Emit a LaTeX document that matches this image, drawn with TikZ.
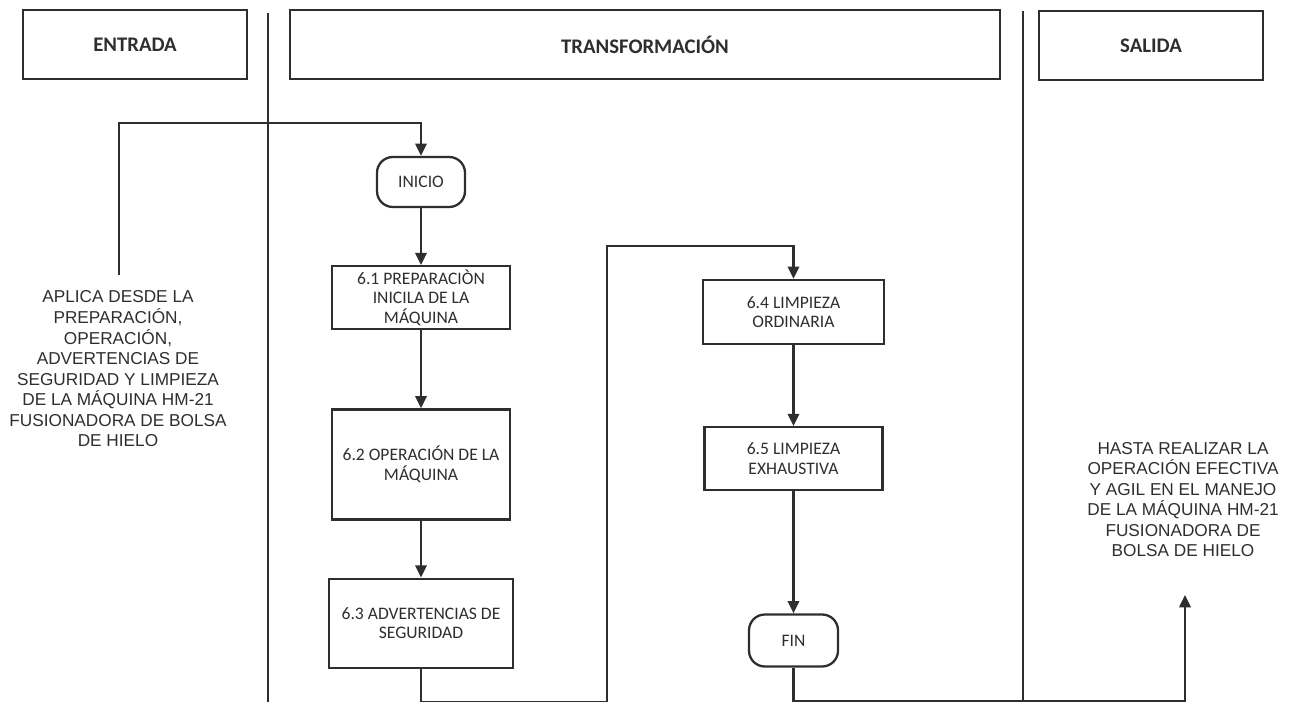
\documentclass[tikz,border=0pt]{standalone}
\usepackage{fontspec}
\setmainfont{Carlito}
\newfontfamily\arialfont{Liberation Sans}
\usepackage{tikz}
\usetikzlibrary{positioning,arrows.meta}
\definecolor{ink}{HTML}{2E2E2E}

\begin{document}
\begin{tikzpicture}[x=0.02cm, y=-0.02cm,
    hdr/.style={draw=ink, line width=1.3pt, inner sep=0pt, minimum height=1.38cm, text=ink, font=\fontsize{11.8pt}{13pt}\selectfont\bfseries},
    proc/.style={draw=ink, line width=1.3pt, inner sep=0pt, align=center, text=ink, font=\fontsize{10pt}{11.1pt}\selectfont},
    term/.style={proc, rounded corners=9pt},
    note/.style={align=center, inner sep=0pt, text=ink, font=\arialfont\fontsize{9.8pt}{11.7pt}\selectfont},
    flow/.style={draw=ink, line width=1.3pt, -{Triangle[width=6.5pt,length=7pt]}},
    lane/.style={draw=ink, line width=1.1pt}]
  \useasboundingbox (0,0) rectangle (1290,702);

  % headers
  \node[hdr, minimum width=4.48cm] (entrada) at (135,44.5) {ENTRADA};
  \node[hdr, minimum width=14.2cm] (transf) at (645,44.5) {TRANSFORMACIÓN};
  \node[hdr, minimum width=4.48cm] (salida) at (1151,45.5) {SALIDA};
  \draw[lane] (268,13) -- (268,702);
  \draw[lane] (1023,11) -- (1023,702);

  % first column
  \node[term, minimum width=1.76cm, minimum height=1cm] (inicio) at (421,182) {INICIO};
  \node[proc, minimum width=3.56cm, minimum height=1.26cm] (p61)[below=1.14cm of inicio] {6.1 PREPARACIÒN\\INICILA DE LA\\MÁQUINA};
  \node[proc, minimum width=3.56cm, minimum height=2.2cm] (p62)[below=1.56cm of p61] {6.2 OPERACIÓN DE LA\\MÁQUINA};
  \node[proc, minimum width=3.68cm, minimum height=1.78cm] (p63)[below=1.14cm of p62] {6.3 ADVERTENCIAS DE\\SEGURIDAD};

  % second column
  \node[proc, minimum width=3.62cm, minimum height=1.28cm] (p64) at (793.5,312) {6.4 LIMPIEZA\\ORDINARIA};
  \node[proc, minimum width=3.56cm, minimum height=1.26cm] (p65)[below=1.62cm of p64] {6.5 LIMPIEZA\\EXHAUSTIVA};
  \node[term, minimum width=1.78cm, minimum height=1.04cm] (fin)[below=2.44cm of p65] {FIN};

  % side texts
  \node[note] (alcance) at (118,369) {APLICA DESDE LA\\PREPARACIÓN,\\OPERACIÓN,\\ADVERTENCIAS DE\\SEGURIDAD Y LIMPIEZA\\DE LA MÁQUINA HM-21\\FUSIONADORA DE BOLSA\\DE HIELO};
  \node[note] (meta) at (1183,499.5) {HASTA REALIZAR LA\\OPERACIÓN EFECTIVA\\Y AGIL EN EL MANEJO\\DE LA MÁQUINA HM-21\\FUSIONADORA DE\\BOLSA DE HIELO};

  \coordinate (inTop) at (119,275);
  \coordinate (inBend) at (119,123);
  \coordinate (upTurn) at (607,246);
  \coordinate (outEnd) at (1185,595);

  \draw[flow] (inTop) -- (inBend) -| (inicio.north);
  \draw[flow] (inicio) -- (p61);
  \draw[flow] (p61) -- (p62);
  \draw[flow] (p62) -- (p63);
  \draw[flow] (p63.south) -- ++(0,33) -| (upTurn) -| (p64.north);
  \draw[flow] (p64) -- (p65);
  \draw[flow] (p65) -- (fin);
  \draw[flow] (fin.south) -- ++(0,33) -| (outEnd);
\end{tikzpicture}
\end{document}
